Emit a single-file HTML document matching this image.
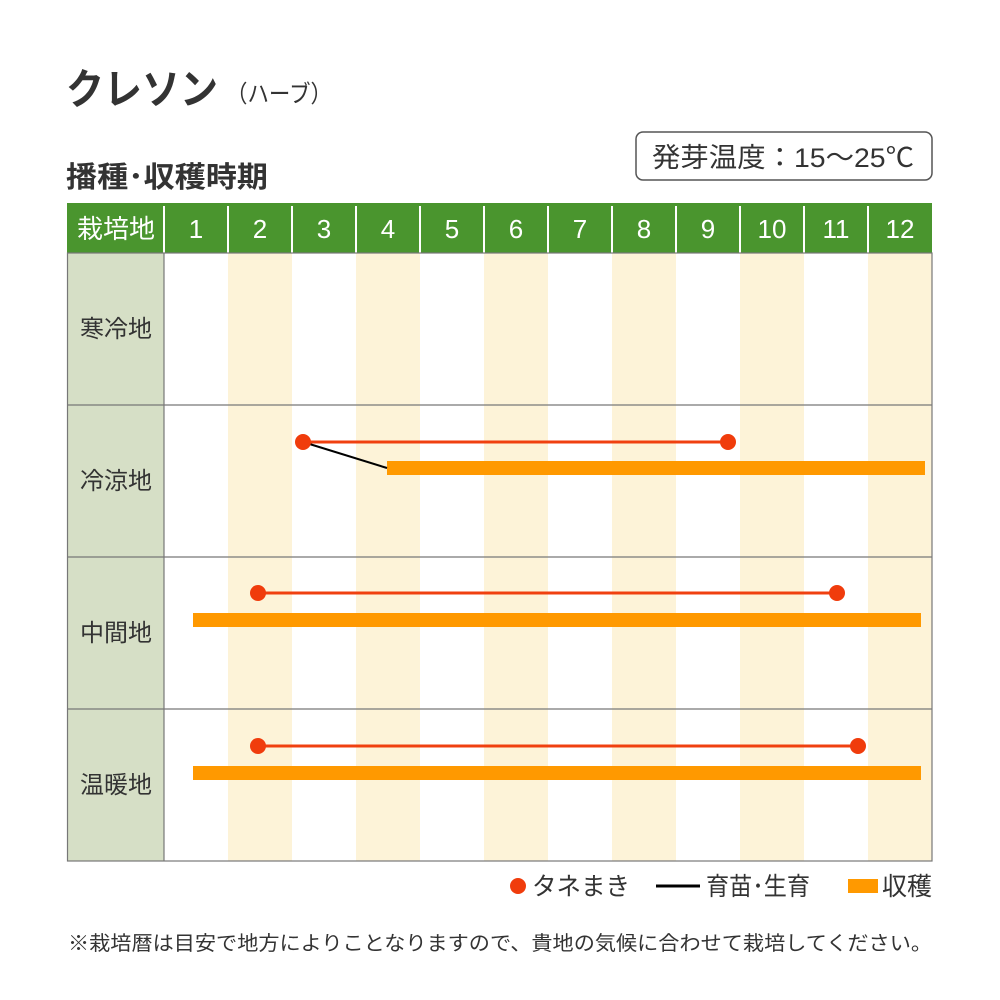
<!DOCTYPE html>
<html><head><meta charset="utf-8"><style>
body{margin:0;background:#fff}
svg{display:block}
text{font-family:"Liberation Sans","Noto Sans CJK JP",sans-serif}
</style></head><body>
<svg width="1000" height="1000" viewBox="0 0 1000 1000">
<text x="66" y="104" font-size="42" fill="#333" font-weight="bold" textLength="152" lengthAdjust="spacingAndGlyphs">クレソン</text>
<text x="226" y="102" font-size="24" fill="#333" textLength="106" lengthAdjust="spacingAndGlyphs">（ハーブ）</text>
<rect x="636" y="132" width="296" height="48" rx="7" fill="#fff" stroke="#555" stroke-width="1.5"/>
<text x="652" y="167" font-size="27" fill="#333" textLength="262" lengthAdjust="spacingAndGlyphs">発芽温度：15～25℃</text>
<text x="66" y="187" font-size="29" fill="#333" font-weight="bold" textLength="202" lengthAdjust="spacingAndGlyphs">播種･収穫時期</text>
<rect x="67" y="203" width="865" height="50" fill="#4a952e"/>
<g stroke="#fff" stroke-width="2">
<line x1="164" y1="206" x2="164" y2="253"/><line x1="228" y1="206" x2="228" y2="253"/><line x1="292" y1="206" x2="292" y2="253"/><line x1="356" y1="206" x2="356" y2="253"/><line x1="420" y1="206" x2="420" y2="253"/><line x1="484" y1="206" x2="484" y2="253"/><line x1="548" y1="206" x2="548" y2="253"/><line x1="612" y1="206" x2="612" y2="253"/><line x1="676" y1="206" x2="676" y2="253"/><line x1="740" y1="206" x2="740" y2="253"/><line x1="804" y1="206" x2="804" y2="253"/><line x1="868" y1="206" x2="868" y2="253"/>
</g>
<g fill="#fff" font-size="26" text-anchor="middle">
<text x="116" y="238">栽培地</text>
<text x="196" y="238">1</text><text x="260" y="238">2</text><text x="324" y="238">3</text><text x="388" y="238">4</text><text x="452" y="238">5</text><text x="516" y="238">6</text><text x="580" y="238">7</text><text x="644" y="238">8</text><text x="708" y="238">9</text><text x="772" y="238">10</text><text x="836" y="238">11</text><text x="900" y="238">12</text>
</g>
<rect x="67" y="253" width="97" height="608" fill="#d6dfc6"/>
<g fill="#fdf3d8">
<rect x="228" y="253" width="64" height="608"/><rect x="356" y="253" width="64" height="608"/><rect x="484" y="253" width="64" height="608"/><rect x="612" y="253" width="64" height="608"/><rect x="740" y="253" width="64" height="608"/><rect x="868" y="253" width="64" height="608"/>
</g>
<g stroke="#777" stroke-width="1.2" fill="none">
<rect x="67.5" y="253" width="864.5" height="608"/>
<line x1="164" y1="253" x2="164" y2="861"/>
<line x1="67" y1="405" x2="932" y2="405"/><line x1="67" y1="557" x2="932" y2="557"/><line x1="67" y1="709" x2="932" y2="709"/>
</g>
<g fill="#333" font-size="24" text-anchor="middle">
<text x="116" y="337">寒冷地</text><text x="116" y="489">冷涼地</text><text x="116" y="641">中間地</text><text x="116" y="793">温暖地</text>
</g>
<rect x="387" y="461" width="538" height="14" fill="#ff9900"/>
<rect x="193" y="613" width="728" height="14" fill="#ff9900"/>
<rect x="193" y="766" width="728" height="14" fill="#ff9900"/>
<line x1="303" y1="442" x2="387" y2="468" stroke="#000" stroke-width="2"/>
<g stroke="#f04010" stroke-width="3"><line x1="303" y1="442" x2="728" y2="442"/><line x1="258" y1="593" x2="837" y2="593"/><line x1="258" y1="746" x2="858" y2="746"/></g>
<g fill="#f03c0c"><circle cx="303" cy="442" r="8"/><circle cx="728" cy="442" r="8"/><circle cx="258" cy="593" r="8"/><circle cx="837" cy="593" r="8"/><circle cx="258" cy="746" r="8"/><circle cx="858" cy="746" r="8"/></g>
<circle cx="518" cy="886" r="8" fill="#f03c0c"/>
<text x="532" y="895" font-size="25" fill="#333" textLength="98" lengthAdjust="spacingAndGlyphs">タネまき</text>
<line x1="656" y1="886" x2="700" y2="886" stroke="#000" stroke-width="3"/>
<text x="706" y="895" font-size="25" fill="#333" textLength="104" lengthAdjust="spacingAndGlyphs">育苗･生育</text>
<rect x="848" y="879" width="30" height="14" fill="#ff9900"/>
<text x="882" y="895" font-size="25" fill="#333" textLength="50" lengthAdjust="spacingAndGlyphs">収穫</text>
<text x="68" y="950" font-size="20" fill="#333" textLength="864" lengthAdjust="spacingAndGlyphs">※栽培暦は目安で地方によりことなりますので、貴地の気候に合わせて栽培してください。</text>
</svg>
</body></html>
